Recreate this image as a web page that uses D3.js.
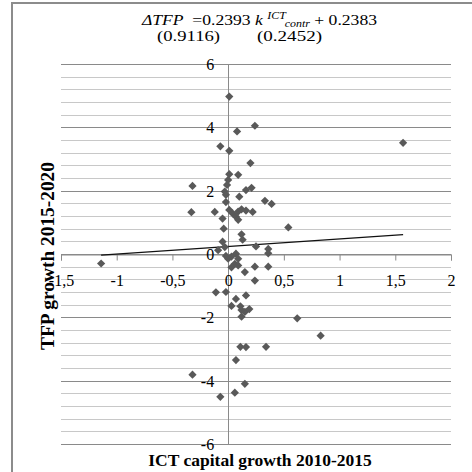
<!DOCTYPE html>
<html>
<head>
<meta charset="utf-8">
<script src="https://cdn.jsdelivr.net/npm/d3@7"></script>
<style>
  body { margin: 0; background: #fff; }
  text { font-family: "Liberation Serif", "Times New Roman", serif; }
</style>
</head>
<body>
<svg id="main" width="472" height="472"></svg>
<script>
// ICT capital growth 2010-2015 (x) vs TFP growth 2015-2020 (y)
const ictGrowth = [
  0.01, 0.24, 0.08, -0.07, 0.01, 1.57, 0.20, 0.01, 0.09, -0.32,
  0.00, -0.01, -0.03, -0.02, 0.16, 0.21, 0.10, -0.02, 0.33, 0.39,
  -0.33, -0.12, 0.01, 0.04, 0.09, 0.12, 0.16, 0.07, 0.09, 0.22,
  -0.05, -0.04, 0.54, 0.12, 0.13, -0.05, 0.25, 0.36, 0.36, -0.09,
  -0.03, 0.00, 0.07, 0.09, 0.06, 0.03, 0.09, 0.15, 0.24, 0.36,
  0.24, -1.14, -0.11, -0.02, 0.07, 0.16, 0.03, 0.11, 0.12, 0.15,
  0.19, 0.12, 0.62, 0.83, 0.11, 0.16, 0.34, 0.07, -0.32, 0.15,
  0.06, -0.07, 0.03, -0.02
];
const tfpGrowth = [
  4.97, 4.05, 3.87, 3.40, 3.26, 3.51, 2.87, 2.52, 2.50, 2.15,
  2.34, 2.18, 1.97, 1.87, 2.02, 2.09, 1.81, 1.64, 1.68, 1.58,
  1.32, 1.33, 1.39, 1.28, 1.34, 1.41, 1.37, 1.18, 1.08, 1.33,
  1.12, 0.80, 0.84, 0.62, 0.45, 0.39, 0.24, 0.16, 0.02, 0.12,
  0.22, -0.15, 0.01, -0.15, -0.31, -0.42, -0.36, -0.57, -0.40, -0.40,
  -0.84, -0.30, -1.21, -1.20, -1.42, -1.31, -1.64, -1.65, -1.77, -1.83,
  -1.74, -1.98, -2.03, -2.58, -2.93, -2.94, -2.93, -3.35, -3.81, -4.10,
  -4.38, -4.51, -0.08, -0.06
];

// regression: slope, intercept and their standard errors
const eqCoef = [0.2393, 0.2383];
const eqSe = [0.9116, 0.2452];

const xTicks = [-1.5, -1, -0.5, 0, 0.5, 1, 1.5, 2];
const yTicks = [-6, -4, -2, 0, 2, 4, 6];
const yMinor = d3.range(-6, 6.001, 0.4);

const points = ictGrowth.map((v, i) => ({ x: v, y: tfpGrowth[i] }));

const svg = d3.select("#main");

const x = d3.scaleLinear().domain([-1.5, 2]).range([61, 451]);
const y = d3.scaleLinear().domain([-6, 6]).range([444, 64]);

const comma = d3.formatLocale({ decimal: ",", thousands: ".", grouping: [3], currency: ["", ""], minus: "-" }).format("~g");
const isMajor = d => Math.abs(Math.round(d) - d) < 0.01 && Math.round(d) % 2 === 0;

// outer frame (right and bottom edges fall outside the picture)
svg.append("rect")
    .attr("x", 12).attr("y", 3)
    .attr("width", 480).attr("height", 480)
    .attr("fill", "none")
    .attr("stroke", "#8c8c8c")
    .attr("stroke-width", 2);

// horizontal gridlines (minor every 0.4, major every 2)
svg.append("g")
    .selectAll("line")
    .data(yMinor)
    .join("line")
    .attr("x1", x(-1.5)).attr("x2", x(2))
    .attr("y1", d => Math.round(y(d)) + 0.5)
    .attr("y2", d => Math.round(y(d)) + 0.5)
    .attr("stroke", d => isMajor(d) ? "#8a8a8a" : "#c8c8c8")
    .attr("stroke-width", 1);

// y axis line at x = 0
svg.append("line")
    .attr("x1", Math.round(x(0)) + 0.5).attr("x2", Math.round(x(0)) + 0.5)
    .attr("y1", y(6)).attr("y2", y(-6))
    .attr("stroke", "#8a8a8a");

// x axis at y = 0
const xAxis = d3.axisBottom(x)
    .tickValues(xTicks)
    .tickSize(6)
    .tickFormat(comma);
const gx = svg.append("g")
    .attr("transform", `translate(0,${Math.round(y(0)) + 0.5})`)
    .call(xAxis);
gx.attr("font-family", null);
gx.select(".domain").attr("stroke", "#8a8a8a");
gx.selectAll(".tick line").attr("stroke", "#8a8a8a");
gx.selectAll(".tick text")
    .attr("y", 20)
    .attr("font-size", 16)
    .style("font-family", "'Liberation Serif', serif")
    .attr("fill", "#000");

// y tick labels next to the y axis
svg.append("g")
    .selectAll("text")
    .data(yTicks)
    .join("text")
    .attr("x", x(0) - 14)
    .attr("y", d => y(d) + 6)
    .attr("text-anchor", "end")
    .attr("font-size", 16)
    .text(d => comma(d));

// trendline
const xr = d3.extent(ictGrowth);
svg.append("line")
    .attr("x1", x(xr[0])).attr("y1", y(eqCoef[0] * xr[0] + eqCoef[1]))
    .attr("x2", x(xr[1])).attr("y2", y(eqCoef[0] * xr[1] + eqCoef[1]))
    .attr("stroke", "#111")
    .attr("stroke-width", 1.2);

// points
svg.append("g")
    .selectAll("path")
    .data(points)
    .join("path")
    .attr("d", d3.symbol(d3.symbolSquare, 34))
    .attr("transform", d => `translate(${x(d.x)},${y(d.y)}) rotate(45)`)
    .attr("fill", "#595959");

// axis titles
svg.append("text")
    .attr("x", 260).attr("y", 466)
    .attr("text-anchor", "middle")
    .attr("font-size", 17.5)
    .attr("font-weight", "bold")
    .text("ICT capital growth 2010-2015");

svg.append("text")
    .attr("transform", "translate(54,256) rotate(-90)")
    .attr("text-anchor", "middle")
    .attr("font-size", 18.5)
    .attr("font-weight", "bold")
    .attr("textLength", 188)
    .attr("lengthAdjust", "spacingAndGlyphs")
    .text("TFP growth 2015-2020");

// regression equation
const eq = svg.append("text")
    .attr("x", 142).attr("y", 25)
    .attr("font-size", 15.5)
    .attr("xml:space", "preserve")
    .attr("textLength", 235)
    .attr("lengthAdjust", "spacingAndGlyphs");
eq.append("tspan").attr("font-style", "italic").text("ΔTFP");
eq.append("tspan").text(`  =${eqCoef[0]} `);
eq.append("tspan").attr("font-style", "italic").text("k ");
eq.append("tspan").attr("font-style", "italic").attr("font-size", 10.5).attr("dy", -6).text("ICT");
eq.append("tspan").attr("font-style", "italic").attr("font-size", 10.5).attr("dy", 7.5).text("contr");
eq.append("tspan").attr("dy", -1.5).text(` + ${eqCoef[1]}`);

svg.append("text")
    .attr("x", 157).attr("y", 41)
    .attr("font-size", 15.5)
    .attr("textLength", 63)
    .attr("lengthAdjust", "spacingAndGlyphs")
    .text(`(${eqSe[0]})`);
svg.append("text")
    .attr("x", 257).attr("y", 41)
    .attr("font-size", 15.5)
    .attr("textLength", 65)
    .attr("lengthAdjust", "spacingAndGlyphs")
    .text(`(${eqSe[1]})`);
</script>
</body>
</html>
